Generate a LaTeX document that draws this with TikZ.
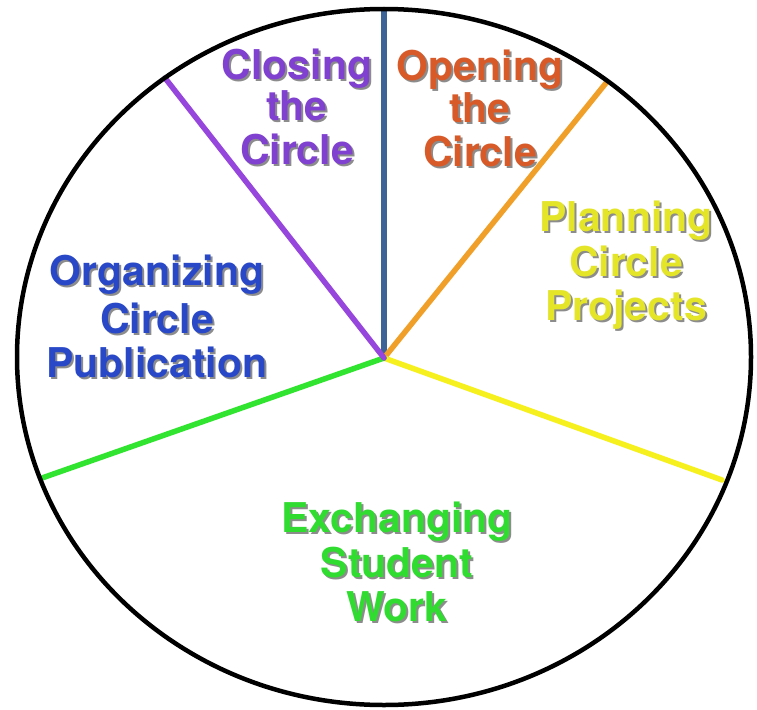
\documentclass[tikz,border=0pt]{standalone}
\usepackage{fontspec}
\newfontfamily\lblfont{TeX Gyre Heros}
\definecolor{cpurple}{RGB}{128,64,208}
\definecolor{lpurple}{RGB}{150,70,220}
\definecolor{corange}{RGB}{216,90,40}
\definecolor{lorange}{RGB}{240,160,40}
\definecolor{lblue}{RGB}{60,100,150}
\definecolor{cyellow}{RGB}{228,228,40}
\definecolor{lyellow}{RGB}{245,240,30}
\definecolor{cblue}{RGB}{40,72,200}
\definecolor{cgreen}{RGB}{48,220,48}
\definecolor{lgreen}{RGB}{48,228,48}
\newcommand\shln[1]{\makebox[0pt][l]{\hspace{2pt}\raisebox{-2pt}{\color{black!45}#1}}#1}
\begin{document}
\begin{tikzpicture}[x=1pt,y=-1pt,
  lbl/.style={align=center,inner sep=0pt,font=\lblfont\bfseries\fontsize{41}{44}\selectfont},
  spoke/.style={line width=5.5pt,line cap=round},
  rim/.style={line width=4.5pt,draw=black}]
\useasboundingbox (0,0) rectangle (757,709);
\fill[white] (0,0) rectangle (757,709);
\coordinate (c) at (384,358);
\coordinate (eblue) at (384,10);
\coordinate (eorange) at (606,83);
\coordinate (eyellow) at (722,480);
\coordinate (egreen) at (42,478);
\coordinate (epurple) at (165,78);
\draw[spoke,draw=lblue] (c) -- (eblue);
\draw[spoke,draw=lorange] (c) -- (eorange);
\draw[spoke,draw=lyellow] (c) -- (eyellow);
\draw[spoke,draw=lgreen] (c) -- (egreen);
\draw[spoke,draw=lpurple] (c) -- (epurple);
\draw[rim] (384,357) ellipse [x radius=367, y radius=348];
\node[lbl,text width=200pt,text=cpurple] (close) at (297,108) {\fontsize{41}{41}\selectfont \shln{Closing}\\\shln{the}\\\shln{Circle}};
\node[lbl,text width=200pt,text=corange] (open) at (480,109) {\fontsize{41}{42}\selectfont \shln{Opening}\\\shln{the}\\\shln{Circle}};
\node[lbl,text width=200pt,text=cyellow] (plan) at (626,266) {\fontsize{41}{45}\selectfont \shln{Planning}\\\shln{Circle}\\\shln{Projects}};
\node[lbl,text width=260pt,text=cblue] (org) at (157,317) {\fontsize{41}{48}\selectfont \shln{Organizing}\\\shln{Circle}\\\shln{Publication}};
\node[lbl,text width=260pt,text=cgreen] (exch) at (397,563) {\fontsize{41}{45}\selectfont \shln{Exchanging}\\\shln{Student}\\\shln{Work}};
\end{tikzpicture}
\end{document}
